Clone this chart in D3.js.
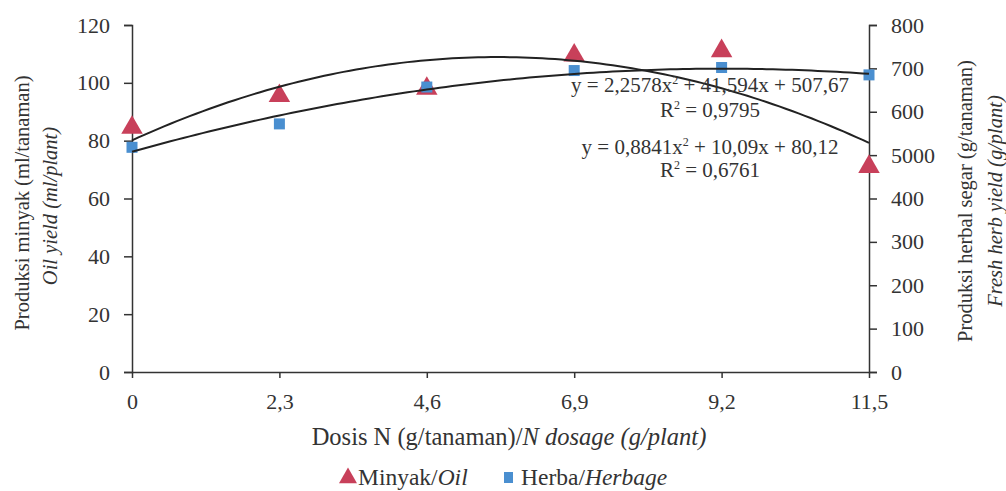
<!DOCTYPE html>
<html lang="id">
<head>
<meta charset="UTF-8">
<script src="https://cdnjs.cloudflare.com/ajax/libs/d3/7.8.5/d3.min.js"></script>
<style>
  body { margin: 0; background: #fff; }
  svg text { font-family: "Liberation Serif", "Times New Roman", serif; fill: #333; }
</style>
</head>
<body>
<div id="chart"></div>
<script>
// dosis N (g/tanaman)
const dosage = [0, 2.3, 4.6, 6.9, 9.2, 11.5];
const dosageLabels = ['0', '2,3', '4,6', '6,9', '9,2', '11,5'];
// minyak (ml/tanaman), left axis
const oil = [84.5, 95.5, 98, 109.5, 111, 71];
// herba (g/tanaman), right axis
const herbage = [518, 572, 657, 695, 702, 685];
// trend coefficients [a, b, c] for a*x^2 + b*x + c
const oilTrend = [-0.8841, 10.09, 80.12];
const herbTrend = [-2.2578, 41.594, 507.67];
const leftTicks = [0, 20, 40, 60, 80, 100, 120];
const rightTicks = [0, 100, 200, 300, 400, 500, 600, 700, 800];
const rightTickLabels = ['0', '100', '200', '300', '400', '5000', '600', '700', '800'];

const width = 1006, height = 491;
const svg = d3.select('#chart').append('svg')
  .attr('width', width).attr('height', height);

const x = d3.scaleLinear().domain([0, 11.5]).range([132, 869]);
const yL = d3.scaleLinear().domain([0, 120]).range([372, 25]);
const yR = d3.scaleLinear().domain([0, 800]).range([372, 25]);

// axes
const axisColor = '#333';
function styleAxis(g) {
  g.selectAll('path, line').attr('stroke', axisColor).attr('stroke-width', 1.5);
  g.selectAll('text').attr('fill', '#333').style('font-size', '22px')
    .style('font-family', '"Liberation Serif", serif');
}

svg.append('g')
  .attr('transform', 'translate(132,0)')
  .call(d3.axisLeft(yL).tickValues(leftTicks).tickSize(8).tickPadding(14).tickSizeOuter(8))
  .call(styleAxis);

svg.append('g')
  .attr('transform', 'translate(869,0)')
  .call(d3.axisRight(yR).tickValues(rightTicks).tickSize(8).tickPadding(14).tickSizeOuter(8)
    .tickFormat((d, i) => rightTickLabels[i]))
  .call(styleAxis);

svg.append('g')
  .attr('transform', 'translate(0,372)')
  .call(d3.axisBottom(x).tickValues(dosage).tickSize(6).tickPadding(15).tickSizeOuter(0)
    .tickFormat((d, i) => dosageLabels[i]))
  .call(styleAxis);

// markers
const tri = d3.symbol().type(d3.symbolTriangle).size(200);
svg.append('g').selectAll('path')
  .data(dosage.map((d, i) => [d, oil[i]]))
  .join('path')
  .attr('d', tri)
  .attr('transform', d => `translate(${x(d[0])},${yL(d[1])})`)
  .attr('fill', '#c8405a');

svg.append('g').selectAll('rect')
  .data(dosage.map((d, i) => [d, herbage[i]]))
  .join('rect')
  .attr('x', d => x(d[0]) - 5.5)
  .attr('y', d => yR(d[1]) - 5.5)
  .attr('width', 11).attr('height', 11)
  .attr('fill', '#4a8fd0');

// trend lines (polynomial order 2)
const xs = d3.range(0, 11.5001, 0.1);
const poly = c => v => c[0] * v * v + c[1] * v + c[2];
const line = (ys, f) => d3.line().x(v => x(v)).y(v => ys(f(v)));
svg.append('path')
  .attr('d', line(yL, poly(oilTrend))(xs))
  .attr('fill', 'none').attr('stroke', '#222').attr('stroke-width', 2);
svg.append('path')
  .attr('d', line(yR, poly(herbTrend))(xs))
  .attr('fill', 'none').attr('stroke', '#222').attr('stroke-width', 2);

// equation labels
const eq = svg.append('g').style('font-size', '21px').attr('text-anchor', 'middle');
function eqLabel(cx, cy, pre, post) {
  const t = eq.append('text').attr('x', cx).attr('y', cy);
  t.append('tspan').text(pre);
  t.append('tspan').attr('dy', -8).style('font-size', '12px').text('2');
  t.append('tspan').attr('dy', 8).text(post);
}
eqLabel(710, 92, 'y = 2,2578x', ' + 41,594x + 507,67');
eqLabel(710, 117, 'R', ' = 0,9795');
eqLabel(710, 154, 'y = 0,8841x', ' + 10,09x + 80,12');
eqLabel(710, 177, 'R', ' = 0,6761');

// axis titles
const titles = svg.append('g').style('font-size', '20.5px').attr('text-anchor', 'middle');
titles.append('text')
  .attr('transform', 'translate(29,203) rotate(-90)')
  .text('Produksi minyak (ml/tanaman)');
titles.append('text')
  .attr('transform', 'translate(57,206) rotate(-90)')
  .style('font-style', 'italic')
  .text('Oil yield (ml/plant)');
titles.append('text')
  .attr('transform', 'translate(972,201) rotate(-90)')
  .text('Produksi herbal segar (g/tanaman)');
titles.append('text')
  .attr('transform', 'translate(1002,201) rotate(-90)')
  .style('font-style', 'italic')
  .text('Fresh herb yield (g/plant)');

const xt = svg.append('text').attr('x', 509).attr('y', 445)
  .attr('text-anchor', 'middle').style('font-size', '24.5px');
xt.append('tspan').text('Dosis N (g/tanaman)/');
xt.append('tspan').style('font-style', 'italic').text('N dosage (g/plant)');

// legend
const legend = svg.append('g').style('font-size', '23.5px');
legend.append('path')
  .attr('d', d3.symbol().type(d3.symbolTriangle).size(140))
  .attr('transform', 'translate(348,478)')
  .attr('fill', '#c8405a');
const l1 = legend.append('text').attr('x', 358).attr('y', 485);
l1.append('tspan').text('Minyak/');
l1.append('tspan').style('font-style', 'italic').text('Oil');
legend.append('rect')
  .attr('x', 504).attr('y', 472).attr('width', 9).attr('height', 11)
  .attr('fill', '#4a8fd0');
const l2 = legend.append('text').attr('x', 521).attr('y', 485);
l2.append('tspan').text('Herba/');
l2.append('tspan').style('font-style', 'italic').text('Herbage');
</script>
</body>
</html>
